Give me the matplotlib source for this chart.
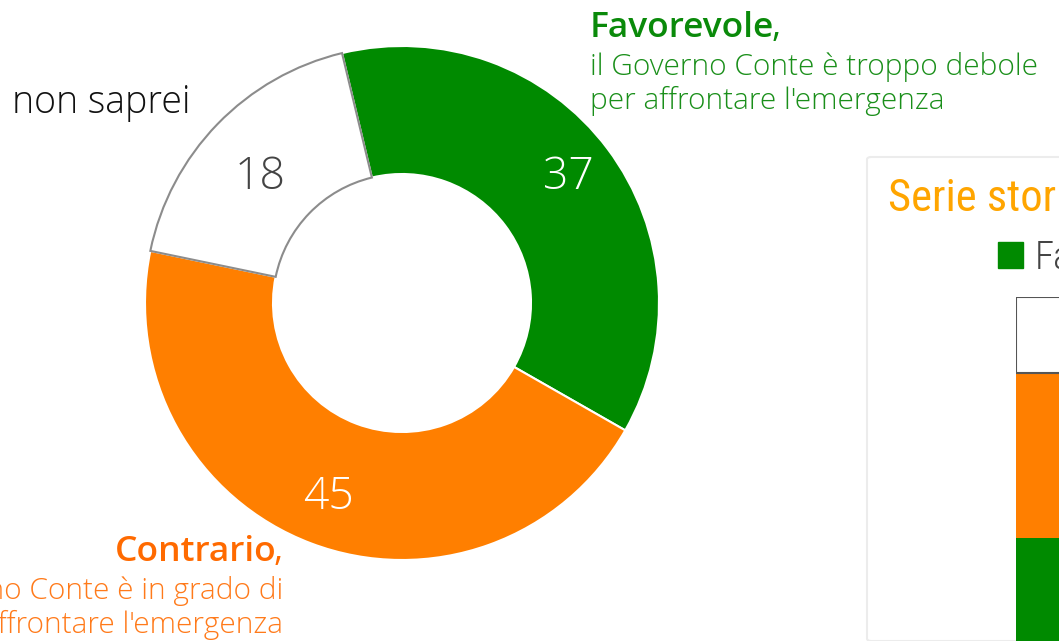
import matplotlib.pyplot as plt
from matplotlib.patches import FancyBboxPatch, Patch

# donut values
labels = ["Favorevole", "Contrario", "Non so"]
values = [37, 45, 18]
colors = ["#008a00", "#ff7f00", "#ffffff"]
num_colors = ["#ffffff", "#ffffff", "#444444"]

# historical series (only the first bar is visible)
hist_dates = ["1"]
hist_fav = [33]
hist_con = [46]
hist_nonso = [21]

W, H = 1059, 641
LIGHT = ["Open Sans", "Lato", "DejaVu Sans"]
NARROW = ["Roboto Condensed", "Liberation Sans Narrow", "DejaVu Sans Condensed", "DejaVu Sans"]

fig = plt.figure(figsize=(W / 100, H / 100), dpi=100)
ax = fig.add_axes([0, 0, 1, 1])

wedges, _, nums = ax.pie(values, colors=colors, startangle=103.5, counterclock=False,
                         center=(402, H - 303), radius=257,
                         autopct="%d", pctdistance=0.81,
                         wedgeprops=dict(width=128, edgecolor="white", linewidth=1.5))
wedges[2].set_edgecolor("#8c8c8c")
wedges[2].set_zorder(3)
for t, c in zip(nums, num_colors):
    t.set_color(c)
    t.set_fontsize(32)
    t.set_family(LIGHT)
    t.set_fontweight("light")
nums[2].set_position((260, H - 178))

ax.set_xlim(0, W)
ax.set_ylim(0, H)
ax.set_aspect("auto")
ax.axis("off")

renderer = fig.canvas.get_renderer()

# labels
fav = ax.text(590, H - 28, "Favorevole", color="#0a8a0a", fontsize=25.5, family=LIGHT,
              fontweight="semibold", va="center", ha="left")
bb = fav.get_window_extent(renderer)
ax.text(bb.x1 - 3, H - 28, ",", color="#0a8a0a", fontsize=25.5, family=LIGHT, va="center")
ax.text(590, H - 84, "il Governo Conte è troppo debole\nper affrontare l'emergenza",
        color="#1a8f1a", fontsize=21.5, family=LIGHT, fontweight="light",
        va="center", ha="left", linespacing=1.2)

ax.text(12, H - 103, "non saprei", color="#111111", fontsize=27, family=LIGHT,
        fontweight="light", va="center", ha="left")

comma = ax.text(283, H - 552, ",", color="#ff6a00", fontsize=25.5, family=LIGHT,
                va="center", ha="right")
cb = comma.get_window_extent(renderer)
ax.text(cb.x0 + 3, H - 552, "Contrario", color="#ff6a00", fontsize=25.5, family=LIGHT,
        fontweight="semibold", va="center", ha="right")
ax.text(283, H - 608, "il Governo Conte è in grado di\naffrontare l'emergenza",
        color="#ff7a1a", fontsize=21.5, family=LIGHT, fontweight="light",
        va="center", ha="right", multialignment="right", linespacing=1.2)

# right panel
panel = FancyBboxPatch((867 / W, 0), 0.5, (H - 157) / H, boxstyle="round,pad=0,rounding_size=0.004",
                       transform=fig.transFigure, facecolor="white", edgecolor="#ececec",
                       linewidth=1.5, zorder=-1)
fig.patches.append(panel)
fig.text(888 / W, 1 - 199 / H, "Serie storica", color="#ffa500", fontsize=32,
         family=NARROW, va="center", ha="left")

# stacked bar axes: y=100 at px 297, y=0 at px 657
bottom_px, top_px = 657, 297
axb = fig.add_axes([1016 / W, 1 - bottom_px / H, 160 / W, (bottom_px - top_px) / H])
axb.bar(hist_dates, hist_fav, width=1, color=colors[0], align="edge")
axb.bar(hist_dates, hist_con, bottom=hist_fav, width=1, color=colors[1], align="edge")
b3 = [f + c for f, c in zip(hist_fav, hist_con)]
axb.bar(hist_dates, hist_nonso, bottom=b3, width=1, color="white", edgecolor="#555555",
        linewidth=1.5, align="edge")
axb.set_ylim(0, 100)
axb.set_xlim(0, 1)
axb.axis("off")

handles = [Patch(color=c, label=l) for c, l in zip(colors[:2], labels[:2])]
fig.legend(handles=handles, loc="center left", bbox_to_anchor=(998 / W, 1 - 258 / H),
           ncol=2, frameon=False, handlelength=0.64, handleheight=0.64, handletextpad=0.3,
           borderpad=0, borderaxespad=0,
           prop=dict(family=NARROW, size=28, weight="light"), labelcolor="#444444")

plt.savefig("out.png", dpi=100)
